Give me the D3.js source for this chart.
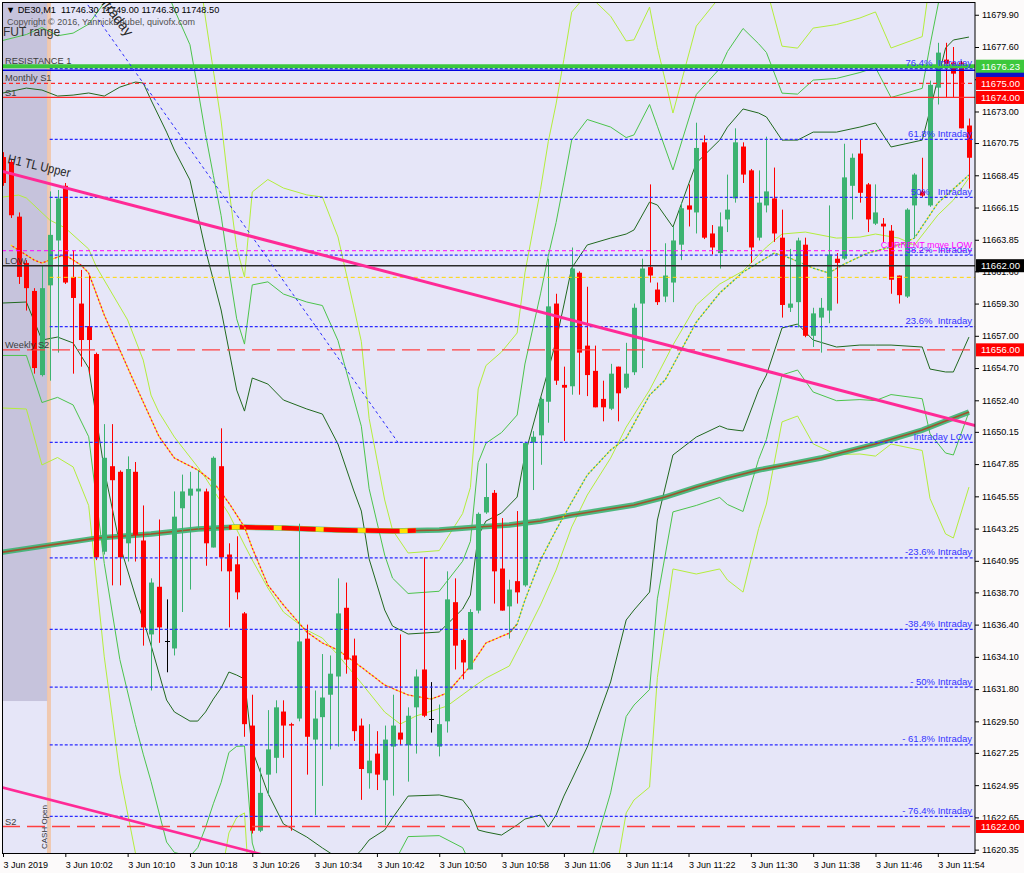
<!DOCTYPE html>
<html><head><meta charset="utf-8">
<script src="https://cdn.jsdelivr.net/npm/d3@7"></script>
<style>
html,body{margin:0;padding:0;background:#fcfafa;}
svg{display:block;font-family:"Liberation Sans",Arial,sans-serif;}
</style></head><body>
<svg id="c" width="1024" height="873"></svg>
<script>
// ---------------- DATA ----------------
const headerText = "\u25BC DE30,M1  11746.30 11749.00 11746.30 11748.50";
const copyrightText = "Copyright \u00A9 2016, YannickDeubel, quivofx.com";

// M1 bars from 09:54 (index 0) to 11:58 (index 124)
const opens = [11669.75,11669.4,11665.5,11662.2,11660.2,11654.2,11660.6,11663.8,11667.7,11661.2,
11659.3,11657.7,11655.7,11641.6,11647.7,11647.3,11642.2,11647.3,11642.4,11635.7,
11639.1,11635.2,11634.7,11644.7,11645.6,11645.9,11645.9,11641.9,11647.7,11641.4,
11640.7,11637.2,11629.2,11621.7,11625.7,11626.9,11630.2,11629.3,11629.7,11635.4,
11628.2,11629.8,11631.4,11632.7,11637.6,11634.2,11629.2,11625.8,11627.2,11625.3,
11627.7,11628.7,11627.8,11630.5,11633.2,11629.7,11627.7,11629.5,11638.0,11635.3,
11633.2,11637.4,11644.4,11645.8,11640.4,11637.7,11639.5,11639.2,11649.4,11649.9,
11652.3,11659.3,11653.5,11653.4,11661.5,11656.3,11654.5,11652.5,11651.8,11654.8,
11653.3,11654.4,11659.3,11661.9,11660.3,11659.8,11660.8,11663.5,11666.3,11665.8,
11670.8,11664.3,11662.9,11665.3,11666.8,11670.5,11668.8,11664.0,11666.3,11666.8,
11664.0,11659.0,11659.4,11663.5,11657.0,11658.3,11658.8,11662.5,11662.5,11667.7,
11670.0,11667.8,11665.0,11665.0,11664.5,11661.3,11659.8,11666.3,11667.3,11666.3,
11674.7,11676.7,11676.5,11676.5,11672.0];
const highs = [11670.1,11669.6,11665.8,11662.4,11660.4,11662.0,11667.3,11667.4,11667.9,11663.1,
11661.7,11661.3,11655.8,11650.7,11650.7,11647.4,11648.4,11648.0,11644.9,11639.7,
11643.9,11638.2,11645.9,11647.1,11647.3,11647.4,11646.1,11648.4,11650.4,11642.2,
11642.7,11637.3,11631.4,11626.2,11630.3,11631.0,11631.0,11629.4,11643.6,11636.4,
11631.7,11634.3,11634.2,11639.7,11639.4,11635.4,11629.7,11629.3,11628.8,11629.2,
11631.4,11635.7,11630.5,11633.2,11641.2,11632.3,11630.7,11640.2,11639.7,11635.4,
11637.5,11644.4,11647.9,11646.0,11644.0,11639.6,11644.5,11649.45,11650.2,11652.6,
11662.5,11660.0,11654.8,11663.3,11661.6,11660.5,11656.3,11653.8,11655.0,11654.8,
11656.5,11659.3,11662.5,11667.8,11660.8,11663.6,11664.8,11666.5,11667.8,11672.2,
11671.3,11664.9,11665.8,11668.5,11671.8,11670.8,11668.9,11668.8,11671.2,11669.0,
11666.0,11663.2,11664.0,11664.0,11659.0,11659.7,11666.3,11662.9,11670.7,11670.0,
11671.0,11667.9,11667.8,11665.4,11664.9,11661.3,11666.1,11668.6,11669.7,11675.2,
11677.9,11677.9,11677.6,11676.6,11672.5];
const lows = [11667.7,11665.4,11660.7,11658.8,11654.3,11654.1,11653.8,11655.8,11660.7,11654.3,
11654.8,11654.3,11641.0,11641.4,11639.2,11639.2,11640.9,11640.9,11634.9,11631.7,
11635.1,11633.0,11634.2,11637.3,11638.9,11643.2,11640.6,11641.9,11640.2,11636.2,
11638.2,11628.4,11621.5,11621.6,11624.2,11625.8,11626.9,11621.7,11629.5,11625.7,
11622.8,11624.9,11627.5,11627.7,11632.9,11628.1,11623.9,11624.7,11624.6,11622.1,
11624.2,11627.8,11625.2,11627.2,11629.8,11628.7,11627.0,11628.7,11633.2,11632.5,
11633.2,11637.2,11644.3,11637.9,11637.4,11635.4,11637.9,11639.1,11646.0,11647.8,
11650.8,11653.5,11649.5,11652.8,11652.8,11652.7,11651.9,11650.9,11651.7,11650.9,
11653.2,11654.2,11654.7,11660.8,11659.2,11659.4,11659.4,11662.4,11664.8,11664.3,
11663.9,11662.8,11661.8,11664.4,11666.5,11667.9,11662.2,11663.8,11665.8,11663.7,
11658.3,11658.7,11657.6,11656.9,11656.2,11655.8,11657.9,11659.3,11662.4,11665.3,
11666.5,11664.4,11664.9,11663.7,11660.0,11659.3,11659.7,11664.0,11666.9,11666.2,
11673.5,11674.0,11674.0,11671.8,11667.5];
const closes = [11667.9,11665.6,11661.2,11660.4,11654.7,11660.4,11664.2,11666.8,11660.8,11659.7,
11656.7,11656.7,11641.2,11648.3,11646.7,11641.2,11647.5,11642.8,11636.2,11639.4,
11636.2,11635.2,11644.1,11645.9,11646.1,11646.1,11642.2,11648.3,11641.2,11640.2,
11638.7,11629.3,11621.7,11624.4,11627.5,11630.5,11629.2,11629.2,11635.2,11628.4,
11629.7,11631.2,11632.9,11637.2,11633.9,11628.8,11626.1,11626.7,11625.7,11628.2,
11629.2,11628.2,11629.9,11632.7,11629.9,11629.7,11629.3,11638.2,11634.9,11633.7,
11637.3,11644.3,11645.5,11640.2,11637.4,11638.9,11638.7,11649.35,11649.8,11652.5,
11659.1,11653.8,11653.3,11661.8,11655.8,11654.2,11651.9,11651.9,11654.3,11652.9,
11654.3,11659.0,11661.8,11661.3,11659.4,11661.3,11663.8,11666.1,11666.0,11670.4,
11664.0,11663.3,11664.8,11666.0,11670.8,11668.5,11663.3,11666.5,11667.3,11664.3,
11659.2,11659.3,11663.8,11657.0,11658.6,11659.0,11662.8,11662.2,11668.3,11669.7,
11667.2,11665.3,11665.8,11664.8,11661.0,11659.9,11666.0,11668.5,11667.0,11674.9,
11677.2,11676.4,11675.7,11671.8,11669.7];

// Bands (read at these bar indices)
const bandBars = [0,3,5,7,9,11,13,15,17,18,19,21,22,24,25,26,27,28,29,30,31,32,34,36,39,41,43,45,46,47,49,50,52,56,59,60,61,62,64,66,67,69,70,71,72,73,75,78,80,81,83,84,86,89,92,93,95,97,98,100,102,104,107,110,112,114,118,119,121,122,124];
const darkUpper = [11674.32,11674.67,11674.53,11674.10,11674.17,11674.32,11674.10,11674.74,11675.10,11675.03,
11673.82,11671.53,11670.25,11668.11,11665.61,11663.12,11660.98,11658.84,11655.99,11653.13,
11651.63,11653.99,11653.56,11652.42,11651.78,11651.42,11649.28,11646.00,11644.50,11641.08,
11637.44,11636.30,11635.73,11635.87,11637.51,11638.51,11642.72,11643.79,11644.36,11645.50,
11648.50,11652.56,11654.56,11656.63,11659.20,11661.83,11663.48,11663.97,11664.26,11664.55,
11666.54,11666.33,11664.76,11669.32,11670.96,11671.89,11673.18,11672.89,11672.61,11670.96,
11670.96,11671.53,11671.53,11671.89,11672.18,11670.47,11670.96,11673.10,11677.53,11678.10,11678.31];
const darkLower = [11659.34,11659.41,11656.70,11656.91,11656.49,11654.70,11647.43,11642.08,11638.44,11636.73,
11634.94,11631.02,11630.17,11629.52,11629.52,11630.17,11631.09,11631.88,11633.02,11632.80,
11632.52,11627.45,11624.39,11622.18,11621.25,11620.47,11619.75,11619.75,11620.32,11621.04,
11621.75,11622.61,11624.17,11624.25,11623.89,11623.18,11621.75,11621.61,11621.39,11622.11,
11622.53,11622.82,11621.96,11622.82,11624.17,11625.32,11627.67,11632.31,11636.73,11637.44,
11638.72,11643.86,11648.50,11649.78,11650.57,11650.35,11650.21,11653.13,11654.20,11657.56,
11657.84,11656.70,11656.20,11656.34,11656.34,11656.34,11656.20,11654.63,11654.42,11654.42,11656.91];
const midUpper = [11678.07,11678.49,11678.99,11678.40,11678.59,11679.23,11680.77,11682.91,11684.27,11684.61,
11683.54,11681.66,11680.27,11677.76,11674.63,11671.36,11668.45,11665.58,11661.73,11658.21,
11656.41,11660.63,11660.85,11659.98,11659.41,11659.16,11656.66,11652.56,11650.55,11646.09,
11641.36,11639.72,11638.62,11638.78,11640.92,11642.34,11647.96,11649.34,11650.10,11651.35,
11654.99,11659.99,11662.71,11665.08,11667.96,11670.96,11672.43,11671.89,11671.14,11671.33,
11673.50,11671.95,11668.83,11674.21,11676.06,11677.28,11678.92,11677.83,11677.21,11674.31,
11674.24,11675.24,11675.36,11675.78,11676.14,11674.00,11674.65,11677.72,11683.31,11684.02,11683.66];
const midLower = [11655.60,11655.60,11652.24,11652.61,11652.07,11649.80,11640.76,11633.91,11629.27,11627.16,
11625.22,11620.89,11620.15,11619.87,11620.50,11621.93,11623.62,11625.14,11627.28,11627.72,
11627.74,11620.82,11617.10,11614.62,11613.62,11612.73,11612.37,11613.19,11614.27,11616.03,
11617.83,11619.19,11621.28,11621.35,11620.49,11619.35,11616.51,11616.07,11615.65,11616.26,
11616.04,11615.39,11613.81,11614.37,11615.41,11616.19,11618.72,11624.40,11629.85,11630.66,
11631.77,11638.24,11644.44,11644.90,11645.47,11644.97,11644.47,11648.19,11649.60,11654.21,
11654.56,11652.99,11652.37,11652.45,11652.38,11652.81,11652.51,11650.01,11648.64,11648.50,11651.56];
const outerUpper = [11681.81,11682.30,11683.45,11682.70,11683.01,11684.13,11687.44,11691.07,11693.43,11694.18,
11693.26,11691.79,11690.29,11687.41,11683.66,11679.60,11675.93,11672.32,11667.48,11663.30,
11661.19,11667.26,11668.15,11667.54,11667.05,11666.90,11664.05,11659.13,11656.59,11651.10,
11645.29,11643.15,11641.51,11641.68,11644.32,11646.18,11653.21,11654.88,11655.85,11657.20,
11661.49,11667.43,11670.86,11673.54,11676.72,11680.09,11681.39,11679.80,11678.03,11678.11,
11680.45,11677.57,11672.89,11679.09,11681.16,11682.66,11684.67,11682.77,11681.82,11677.66,
11677.52,11678.95,11679.20,11679.67,11680.10,11677.53,11678.34,11682.34,11689.09,11689.94,11689.01];
const outerLower = [11651.85,11651.78,11647.79,11648.32,11647.65,11644.89,11634.10,11625.75,11620.11,11617.58,
11615.50,11610.77,11610.13,11610.23,11611.48,11613.70,11616.15,11618.40,11621.54,11622.64,
11622.97,11614.18,11609.81,11607.06,11605.99,11605.00,11604.99,11606.63,11608.23,11611.02,
11613.91,11615.77,11618.39,11618.44,11617.08,11615.52,11611.27,11610.52,11609.91,11610.42,
11609.55,11607.95,11605.66,11605.92,11606.66,11607.07,11609.77,11616.48,11622.97,11623.89,
11624.81,11632.63,11640.37,11640.01,11640.37,11639.58,11638.72,11643.25,11645.00,11650.86,
11651.28,11649.29,11648.53,11648.57,11648.42,11649.28,11648.82,11645.40,11642.87,11642.58,11646.21];

// middle (solid) average
const midBars = [0,2,3,6,8,11,12,16,18,19,20,22,25,26,29,31,32,34,36,39,41,43,46,49,51,53,57,60,62,65,67,69,71,73,75,78,80,83,86,89,92,95,98,100,103,107,110,112,115,117,120,122,124];
const midVals = [11666.90,11667.04,11666.83,11665.26,11664.69,11663.19,11661.91,11658.13,11655.27,11652.77,
11651.56,11649.78,11647.64,11646.86,11644.29,11642.08,11641.01,11639.01,11637.30,11636.01,
11635.44,11634.23,11632.23,11630.16,11629.31,11629.88,11630.59,11631.81,11632.59,11633.45,
11635.59,11637.80,11640.29,11643.36,11645.64,11648.28,11650.49,11653.13,11656.34,11659.19,
11660.69,11661.62,11663.33,11664.26,11664.40,11663.97,11664.04,11664.26,11663.97,11663.47,
11665.61,11666.68,11668.26];

// dotted fast average
const emaBars = [1,4,5,7,8,10,11,13,17,20,22,25,27,29,31,32,34,36,39,41,43,46,49,52,55,57,60,62,65,66,67,69,71,73,75,78,80,83,85,89,92,95,99,101,104,106,108,111,115,117,120,124];
const emaVals = [11663.47,11662.40,11662.19,11662.62,11662.76,11662.05,11661.48,11658.48,11653.49,11649.85,
11648.28,11647.43,11646.57,11645.07,11643.36,11641.86,11639.22,11637.80,11635.87,11635.09,
11634.59,11633.37,11632.09,11631.38,11631.09,11631.52,11633.45,11635.09,11635.80,11636.44,
11638.15,11641.01,11643.15,11645.14,11647.07,11648.85,11649.71,11652.77,11653.85,11657.98,
11660.05,11661.55,11662.90,11662.55,11661.83,11661.48,11662.12,11662.90,11663.47,11663.97,
11666.47,11668.47];
const emaSwitchBar = 66;

// slow thick average
const maBars = [-1,0,6,12,19,25,30,36,43,50,56,61,65,69,73,77,81,85,89,93,97,101,105,109,112,115,118,121,124];
const maVals = [11641.50,11641.57,11642.07,11642.57,11642.86,11643.22,11643.36,11643.29,11643.15,11643.07,11643.15,11643.36,11643.50,11643.79,11644.22,11644.57,11644.93,11645.50,11646.21,11646.86,11647.43,11647.85,11648.28,11648.85,11649.28,11649.78,11650.28,11650.92,11651.56];
const maRedRange = [29, 53];

// Fibonacci "Intraday" levels
const fibLabels = ["76.4%  Intraday","61.8% Intraday","50%   Intraday","38.2%  Intraday","23.6%  Intraday","Intraday LOW","-23.6% Intraday","-38.4% Intraday","- 50% Intraday","- 61.8% Intraday","- 76.4% Intraday"];
const fibPrices = [11676.06,11671.01,11666.87,11662.76,11657.65,11649.40,11641.16,11636.06,11631.94,11627.82,11622.72];
const fibStartBar = 6;

// pivots / levels
const pivotNames = ["RESISTANCE 1","Monthly S1","S1","LOW","Weekly S2","S2"];
const pivotPrices = [11676.23,11675.00,11674.00,11662.00,11656.00,11622.00];
const currentMoveLow = 11663.07;
const yellowLevel = 11661.17;
const blueLevel = 11675.95;

// trend lines [bar, price]
const tlUpper = [[-0.2,11668.75],[124.8,11650.6]];
const tlLower = [[-0.2,11624.8],[34,11619.9]];
const tlIntraday = [[10,11681.3],[50.7,11649.4]];

// FUT range box & cash open
const futRange = {bar0:-1, bar1:5.7, top:11681.5, bottom:11630.95};
const cashOpenBar = 5.9;

// axes
const priceTicks = [11679.90,11677.60,11675.30,11673.00,11670.75,11668.45,11666.15,11663.85,11661.60,11659.30,11657.00,11654.70,11652.40,11650.15,11647.85,11645.55,11643.25,11640.95,11638.70,11636.40,11634.10,11631.80,11629.50,11627.25,11624.95,11622.65,11620.35];
const timeTickBars = [0,8,16,24,32,40,48,56,64,72,80,88,96,104,112,120];
const timeLabels = ["3 Jun 2019","3 Jun 10:02","3 Jun 10:10","3 Jun 10:18","3 Jun 10:26","3 Jun 10:34","3 Jun 10:42","3 Jun 10:50","3 Jun 10:58","3 Jun 11:06","3 Jun 11:14","3 Jun 11:22","3 Jun 11:30","3 Jun 11:38","3 Jun 11:46","3 Jun 11:54"];

// price boxes on the axis
const boxPrices = [11675.45,11676.23,11675.00,11674.00,11662.00,11656.00,11622.00];
const boxColors = ["#1010c8","#3cc83c","#ff0000","#ff0000","#000000","#ff0000","#ff0000"];

// ---------------- DRAW ----------------
const PL=2, PR=975, PT=2, PB=853;
const FONT = "Liberation Sans, Arial, sans-serif";
const x = d3.scaleLinear().domain([0,124]).range([3, 3+7.79*124]);
const y = d3.scaleLinear().domain([11620.11, 11680.81]).range([853, 2]);
const svg = d3.select("#c");
svg.append("rect").attr("width",1024).attr("height",873).attr("fill","#fcfafa");
svg.append("defs").append("clipPath").attr("id","clip").append("rect")
  .attr("x",PL).attr("y",PT).attr("width",PR-PL).attr("height",PB-PT);
const g = svg.append("g").attr("clip-path","url(#clip)");
g.append("rect").attr("x",PL).attr("y",PT).attr("width",PR-PL).attr("height",PB-PT).attr("fill","#e6e6f8");

// FUT range box
g.append("rect").attr("x",x(futRange.bar0)).attr("y",y(futRange.top))
  .attr("width",x(futRange.bar1)-x(futRange.bar0)).attr("height",y(futRange.bottom)-y(futRange.top))
  .attr("fill","#c6c3dc");
// cash open
g.append("line").attr("x1",x(cashOpenBar)).attr("x2",x(cashOpenBar)).attr("y1",PT).attr("y2",PB)
  .attr("stroke","#f2c4a4").attr("stroke-width",4).attr("opacity",0.85);

const line = d3.line().x(d=>x(d[0])).y(d=>y(d[1]));
const zip = (b,v)=>b.map((bb,i)=>[bb,v[i]]);

// bands
function band(vals,color,w){
  g.append("path").attr("d",line(zip(bandBars,vals))).attr("fill","none")
   .attr("stroke",color).attr("stroke-width",w||1);
}
band(outerUpper,"#b4ee3c"); band(outerLower,"#b4ee3c");
band(midUpper,"#4cc44c"); band(midLower,"#4cc44c");
band(darkUpper,"#21691f"); band(darkLower,"#21691f");
g.append("path").attr("d",line(zip(midBars,midVals))).attr("fill","none").attr("stroke","#b4ee3c").attr("stroke-width",1);

// slow MA thick
const maPts = zip(maBars,maVals);
g.append("path").attr("d",line(maPts)).attr("fill","none").attr("stroke","#3cb371").attr("stroke-width",5.5).attr("opacity",0.9);
g.append("path").attr("d",line(maPts)).attr("fill","none").attr("stroke","#a0522d").attr("stroke-width",1.6);
const maRed = maPts.filter(d=>d[0]>=maRedRange[0]-7 && d[0]<=maRedRange[1]+4);
svg.select("defs").append("clipPath").attr("id","clipRed").append("rect")
  .attr("x",x(maRedRange[0])).attr("y",0).attr("width",x(maRedRange[1])-x(maRedRange[0])).attr("height",873);
const gr = g.append("g").attr("clip-path","url(#clipRed)");
gr.append("path").attr("d",line(maRed)).attr("fill","none").attr("stroke","#ffe000").attr("stroke-width",4.5);
gr.append("path").attr("d",line(maRed)).attr("fill","none").attr("stroke","#ff0000").attr("stroke-width",4.5).attr("stroke-dasharray","34,8");

// EMA dotted
const emaPts = zip(emaBars,emaVals);
g.append("path").attr("d",line(emaPts)).attr("fill","none").attr("stroke","#ffe000").attr("stroke-width",1.3).attr("stroke-dasharray","2,2");
g.append("path").attr("d",line(emaPts.filter(d=>d[0]<=emaSwitchBar))).attr("fill","none").attr("stroke","#ff2020").attr("stroke-width",1.3).attr("stroke-dasharray","2,2").attr("stroke-dashoffset",2);
g.append("path").attr("d",line(emaPts.filter(d=>d[0]>=emaSwitchBar-1))).attr("fill","none").attr("stroke","#3cb371").attr("stroke-width",1.3).attr("stroke-dasharray","2,2").attr("stroke-dashoffset",2);

// candles
const bars = d3.range(opens.length).map(i=>({i,o:opens[i],h:highs[i],l:lows[i],c:closes[i]}));
const cg = g.append("g");
bars.forEach(b=>{
  const cx = Math.round(x(b.i));
  const col = b.c>b.o ? "#3cb371" : (b.c<b.o ? "#ff0000" : "#000000");
  cg.append("line").attr("x1",cx+0.5).attr("x2",cx+0.5).attr("y1",y(b.h)).attr("y2",y(b.l))
    .attr("stroke",col).attr("stroke-width",1);
  if (b.c===b.o){
    cg.append("line").attr("x1",cx-2).attr("x2",cx+3).attr("y1",Math.round(y(b.o))+0.5).attr("y2",Math.round(y(b.o))+0.5).attr("stroke",col);
  } else {
    const top=y(Math.max(b.o,b.c)), bot=y(Math.min(b.o,b.c));
    cg.append("rect").attr("x",cx-2).attr("y",top).attr("width",5).attr("height",Math.max(1,bot-top)).attr("fill",col);
  }
});

// horizontal levels
function hline(p,x1,color,w,dash){
  const l=g.append("line").attr("x1",x1).attr("x2",PR).attr("y1",y(p)).attr("y2",y(p))
    .attr("stroke",color).attr("stroke-width",w);
  if(dash) l.attr("stroke-dasharray",dash);
}
hline(currentMoveLow,PL,"#ff00ff",1,"4,3");
hline(yellowLevel,x(fibStartBar),"#ffd700",1,"4,3");
fibPrices.forEach(p=>hline(p,x(fibStartBar),"#2a2aff",1.2,"3,2"));
hline(blueLevel,PL,"#0000e0",1.5,null);
hline(pivotPrices[2],PL,"#ff2a2a",1.2,null);
hline(pivotPrices[1],PL,"#ff2a2a",1.2,"4,3");
hline(pivotPrices[4],PL,"#ff4040",1.4,"18,7");
hline(pivotPrices[5],PL,"#ff4040",1.4,"18,7");
hline(pivotPrices[3],PL,"#2a2a2a",1.5,null);
hline(pivotPrices[0],PL,"#3cc83c",4,null);

// trend lines
g.append("path").attr("d",line(tlIntraday)).attr("stroke","#2a2aff").attr("stroke-width",1).attr("stroke-dasharray","3,3").attr("fill","none");
g.append("path").attr("d",line(tlUpper)).attr("stroke","#ff2a96").attr("stroke-width",3).attr("fill","none");
g.append("path").attr("d",line(tlLower)).attr("stroke","#ff2a96").attr("stroke-width",2.5).attr("fill","none");

// texts inside plot
const tg = g.append("g");
fibPrices.forEach((p,i)=>{
  tg.append("text").attr("x",972).attr("y",y(p)-2.5).attr("text-anchor","end")
    .attr("font-size",9.5).attr("fill","#3434ff").style("white-space","pre").text(fibLabels[i]);
});
tg.append("text").attr("x",972).attr("y",y(currentMoveLow)-2.5).attr("text-anchor","end")
  .attr("font-size",9).attr("fill","#ff00ff").text("CURRENT move LOW");
const pivotOffsets = [-2.5,-2,-1.5,-1.5,-1.5,-1.5];
pivotNames.forEach((n,i)=>{
  tg.append("text").attr("x",5).attr("y",y(pivotPrices[i])+pivotOffsets[i]).attr("font-size",9.3)
    .attr("fill","#3c3c3c").text(n);
});
tg.append("text").attr("x",6).attr("y",13).attr("font-size",9.2).attr("fill","#000").style("white-space","pre").text(headerText);
tg.append("text").attr("x",7).attr("y",25).attr("font-size",9).attr("fill","#505050").text(copyrightText);
tg.append("text").attr("x",3).attr("y",36).attr("font-size",12).attr("fill","#333").text("FUT range");
tg.append("text").attr("transform","translate(7,163) rotate(13)").attr("font-size",13).attr("fill","#262626")
  .attr("textLength",64).attr("lengthAdjust","spacingAndGlyphs").text("H1 TL Upper");
tg.append("text").attr("transform","translate(96,-3) rotate(53)").attr("font-size",14).attr("fill","#262626").text("Intraday");
tg.append("text").attr("transform","translate(46.5,849) rotate(-90)").attr("font-size",8).attr("fill","#333").text("CASH Open");

// frame
svg.append("rect").attr("x",PL+0.5).attr("y",PT+0.5).attr("width",PR-PL-0.5).attr("height",PB-PT).attr("fill","none").attr("stroke","#000").attr("stroke-width",1);

// right axis
const ya = svg.append("g").attr("transform",`translate(${PR},0)`)
  .call(d3.axisRight(y).tickValues(priceTicks).tickSize(4).tickPadding(3).tickFormat(d3.format(".2f")));
ya.select(".domain").remove();
ya.selectAll("text").attr("font-size",9).attr("font-family",FONT).attr("fill","#000");
ya.selectAll("line").attr("stroke","#000");

// price boxes
boxPrices.forEach((p,i)=>{
  const bg = svg.append("g");
  bg.append("rect").attr("x",PR+1).attr("y",y(p)-6.5).attr("width",48).attr("height",13).attr("fill",boxColors[i]);
  if(i>0) bg.append("text").attr("x",PR+6).attr("y",y(p)+3.5).attr("font-size",9.5).attr("font-family",FONT).attr("fill","#fff").text(d3.format(".2f")(p));
});

// bottom axis
const xa = svg.append("g").attr("transform",`translate(0,${PB})`)
  .call(d3.axisBottom(x).tickValues(timeTickBars).tickSize(4).tickFormat((d,i)=>timeLabels[i]));
xa.select(".domain").remove();
xa.selectAll("text").attr("font-size",9).attr("font-family",FONT).attr("fill","#000")
  .attr("text-anchor","start").attr("dy","0.9em").attr("x",0);
xa.selectAll("line").attr("stroke","#000");
</script>
</body></html>
